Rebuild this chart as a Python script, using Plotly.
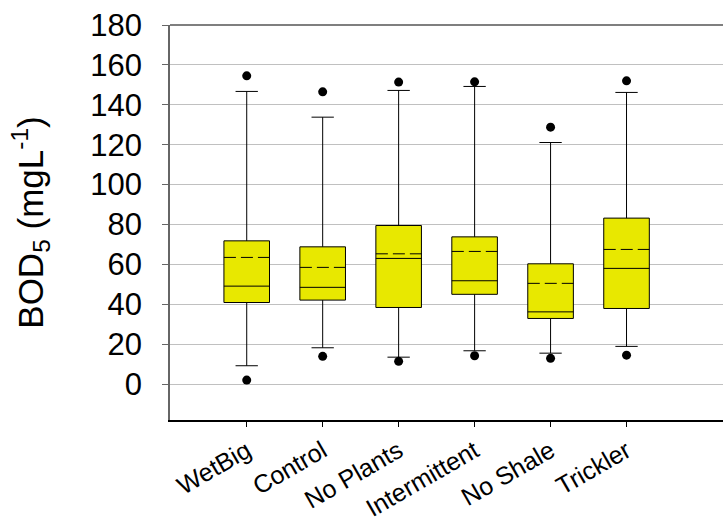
import plotly.graph_objects as go

categories = ["WetBig", "Control", "No Plants", "Intermittent", "No Shale", "Trickler"]
q1 = [40.9, 42.1, 38.4, 45.0, 32.9, 37.9]
median = [49.1, 48.5, 63.0, 51.8, 36.2, 58.0]
q3 = [71.8, 68.8, 79.5, 73.8, 60.3, 83.2]
mean = [63.5, 58.5, 65.3, 66.5, 50.5, 67.5]
lower_whisker = [9.2, 18.2, 13.5, 16.7, 15.5, 18.9]
upper_whisker = [146.7, 133.8, 147.2, 149.2, 121.1, 146.2]
outlier_low = [2.0, 13.9, 11.4, 14.2, 12.9, 14.5]
outlier_high = [154.5, 146.5, 151.4, 151.5, 128.8, 152.0]
y_ticks = [0, 20, 40, 60, 80, 100, 120, 140, 160, 180]

positions = list(range(len(categories)))
box_width = 0.6
FONT = "Arial, Liberation Sans, sans-serif"

fig = go.Figure()
fig.add_trace(go.Box(
    x=positions, q1=q1, median=median, q3=q3,
    lowerfence=lower_whisker, upperfence=upper_whisker,
    width=box_width, whiskerwidth=0.49,
    fillcolor="#e8e800", line=dict(color="black", width=1),
    boxpoints=False, showlegend=False,
))

# mean lines (dashed) across each box
mx, my = [], []
for p, m in zip(positions, mean):
    mx += [p - box_width / 2, p + box_width / 2, None]
    my += [m, m, None]
fig.add_trace(go.Scatter(x=mx, y=my, mode="lines",
                         line=dict(color="black", width=1, dash="12px,5px"),
                         showlegend=False, hoverinfo="skip"))

# outliers
fig.add_trace(go.Scatter(x=positions + positions, y=outlier_high + outlier_low,
                         mode="markers", marker=dict(color="black", size=9),
                         showlegend=False))

fig.add_shape(type="line", xref="paper", yref="paper", x0=0, x1=1, y0=1, y1=1,
              line=dict(color="#555555", width=1.5))

fig.update_layout(
    width=723, height=521,
    margin=dict(l=170, r=0, t=25, b=101),
    plot_bgcolor="white", paper_bgcolor="white",
    font=dict(family=FONT, color="black"),
    xaxis=dict(range=[-1.01, 6.27], tickvals=positions, ticktext=categories,
               tickangle=-30, tickfont=dict(size=25), showgrid=False,
               showline=True, linecolor="black", linewidth=1.5,
               ticks="outside", ticklen=5, tickcolor="black", zeroline=False,
               automargin=False),
    yaxis=dict(range=[-18, 180], tickvals=y_ticks, tickfont=dict(size=31),
               showgrid=True, gridcolor="#c0c0c0", gridwidth=1,
               showline=True, linecolor="#666666", linewidth=1.5,
               ticks="outside", ticklen=6, tickcolor="#666666",
               ticklabelstandoff=14, zeroline=False, automargin=False,
               title=dict(text="BOD<sub>5</sub> (mgL<sup>-1</sup>)",
                          font=dict(size=35), standoff=36)),
)
fig.write_html("out.html", config={"displayModeBar": False},
               post_script="document.body.style.margin='0';document.body.style.overflow='hidden';")
